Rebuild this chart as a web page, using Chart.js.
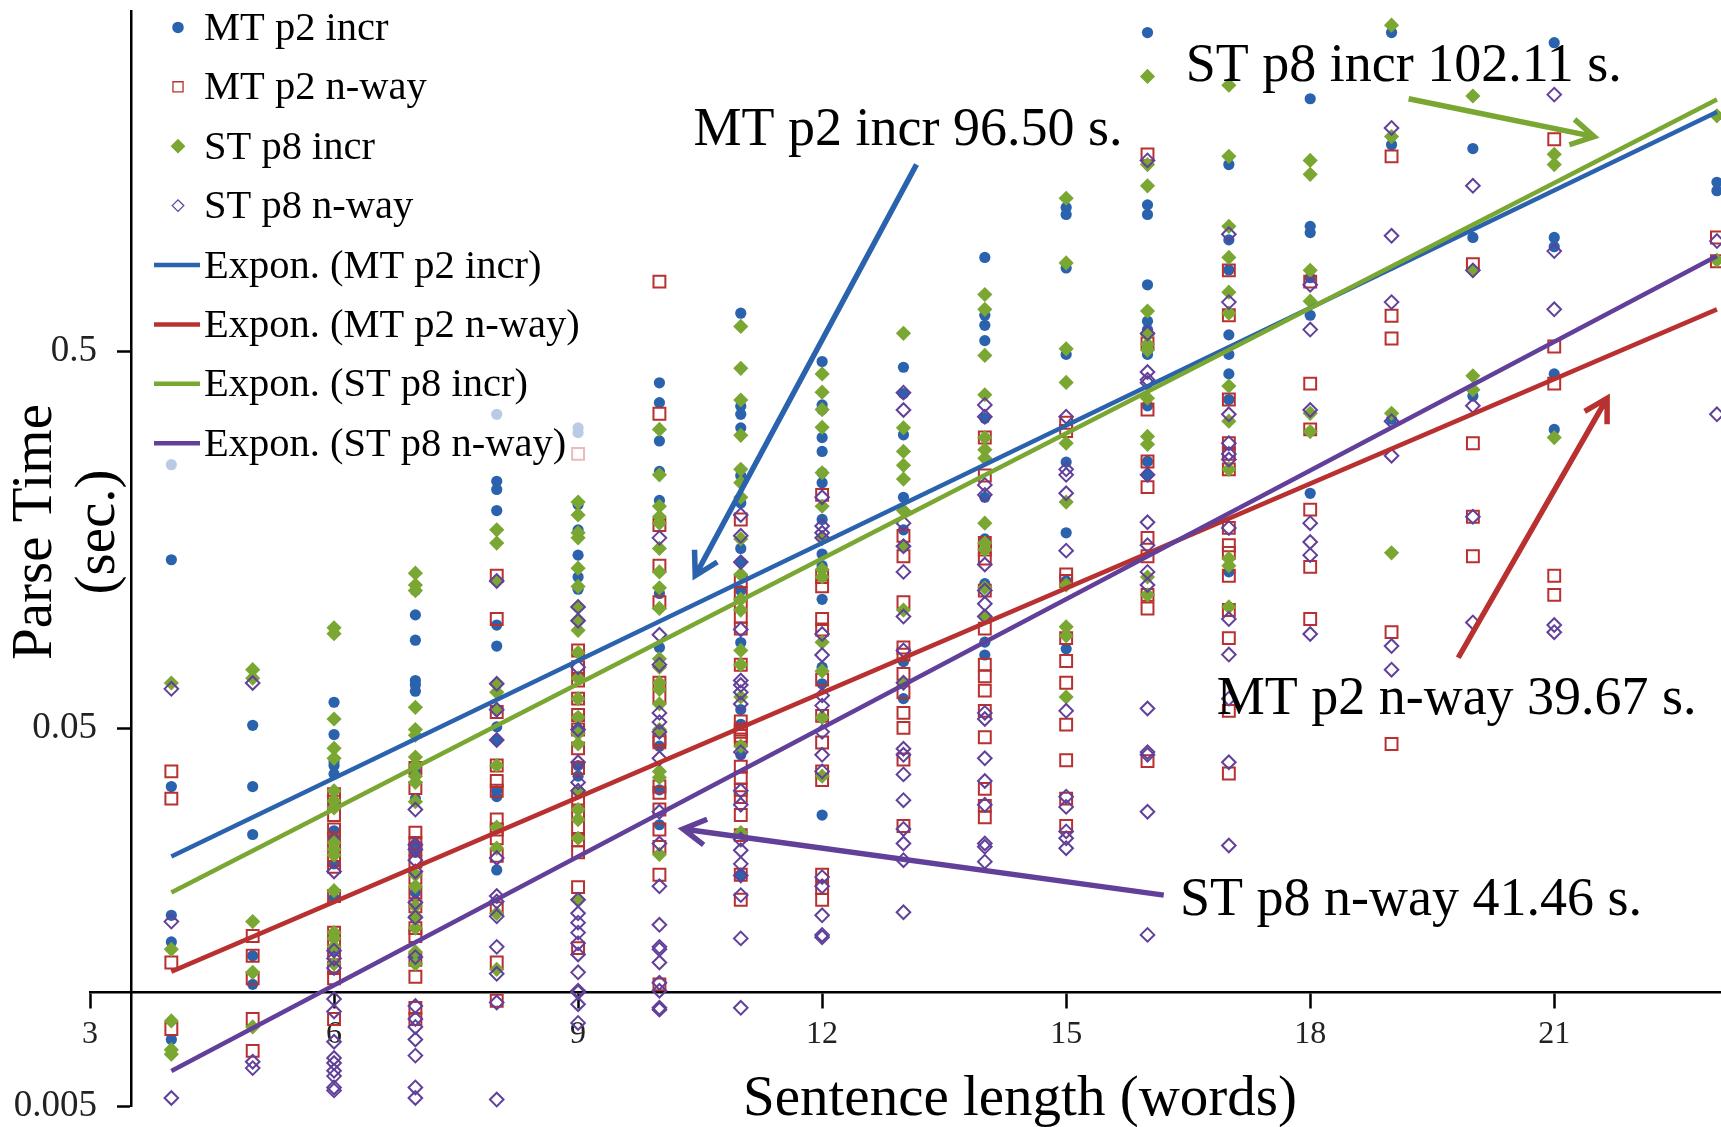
<!DOCTYPE html>
<html>
<head>
<meta charset="utf-8">
<title>Parse time vs sentence length</title>
<script src="https://cdn.jsdelivr.net/npm/chart.js@4/dist/chart.umd.js"></script>
<style>
    html, body { margin: 0; padding: 0; background: #fff; }
    /* the source picture is a soft upscale */
    canvas { display: block; filter: blur(0.5px); }
</style>
</head>
<body>
<canvas id="parseChart" width="1721" height="1127"></canvas>
<script>
// sentence lengths that have points (no 22 in the source)
const lengths = [4, 5, 6, 7, 8, 9, 10, 11, 12, 13, 14, 15, 16, 17, 18, 19, 20, 21, 23];
const xTicks = [3, 6, 9, 12, 15, 18, 21];
const yTicks = [0.005, 0.05, 0.5];

// one inner list per sentence length, parse time in seconds
const mtIncr = [
    [.25, .14, .0351, .016, .0136, .0075],
    [.051, .0351, .0262, .0125, .0105],
    [.0587, .0482, .0408, .0399, .0379, .032, .0268, .0256, .0219, .0178, .0129],
    [.116, .1, .0857, .067, .0653, .0628, .0385, .0326, .0246, .0235, .0184, .0158, .0124],
    [.34, .226, .215, .189, .094, .0827, .0505, .0466, .0342, .033, .0211],
    [.313, .304, .196, .168, .144, .126, .117, .0535, .0497, .0399, .0374, .0342],
    [.412, .365, .289, .24, .201, .114, .082, .0449, .0344, .0278],
    [.63, .357, .34, .313, .234, .198, .15, .138, .116, .0845, .0561, .0513, .0426, .0205],
    [.469, .36, .35, .295, .271, .238, .224, .179, .145, .135, .11, .0727, .0657, .0295],
    [.453, .386, .3, .205, .168, .0752, .06],
    [.885, .622, .585, .533, .332, .205, .159, .121, .0847, .0783],
    [1.2, 1.15, .83, .49, .254, .165, .123, .0813],
    [3.49, 1.22, 1.15, .749, .6, .57, .49, .358, .255, .235],
    [1.56, .985, .82, .552, .49, .435, .372, .13],
    [2.33, 1.07, 1.03, .782, .622, .21],
    [3.49, 1.76, .33],
    [1.72, 1.0, .38],
    [3.28, 1.0, .945, .435, .31],
    [1.4, 1.33]
];
const mtNway = [
    [.0385, .0326, .012, .008],
    [.0141, .0125, .0109, .0085, .007],
    [.0335, .032, .0295, .027, .0256, .0239, .0224, .0215, .018, .0144, .0135, .0127, .0116, .0109, .0085],
    [.0393, .0348, .0265, .0249, .0239, .0222, .0201, .0184, .0169, .0148, .0141, .0122, .011, .0091, .0085],
    [.127, .0975, .0553, .0399, .0363, .0342, .0287, .027, .0256, .023, .0167, .012, .0095],
    [.267, .0805, .0727, .067, .06, .0543, .0497, .0443, .0393, .0326, .03, .0274, .0253, .0235, .019, .0131],
    [.764, .341, .173, .135, .108, .0661, .0606, .0468, .046, .0351, .0338, .0305, .027, .0243, .0205, .0105],
    [.179, .123, .114, .107, .099, .092, .0738, .0522, .0497, .049, .0478, .0468, .0396, .0371, .0344, .0329, .0295, .0261, .0205, .0176],
    [.208, .126, .119, .0975, .0915, .0674, .054, .0459, .0385, .0365, .0205, .0189, .0176],
    [.162, .143, .108, .082, .0785, .0698, .0624, .055, .0502, .0414, .0276],
    [.295, .234, .155, .149, .141, .116, .092, .0738, .0688, .063, .0557, .0474, .0346, .0312, .0291],
    [.323, .307, .128, .123, .0868, .0755, .0661, .0512, .0412, .0326, .0276],
    [1.66, .524, .35, .255, .218, .16, .143, .113, .104, .041],
    [.818, .622, .372, .285, .267, .243, .17, .153, .146, .127, .103, .0868, .0557, .038],
    [.764, .41, .31, .19, .134, .0975],
    [1.64, .62, .54, .09, .0455],
    [.85, .285, .182, .143],
    [1.82, .514, .41, .127, .113],
    [1.0, .865]
];
const stIncr = [
    [.066, .013, .0084, .00705, .00686],
    [.0716, .068, .0154, .0113, .0081],
    [.0924, .0892, .053, .0443, .0417, .0342, .0322, .0308, .0249, .0239, .0231, .0186, .0144, .0139, .0132, .0119],
    [.129, .12, .116, .0569, .0497, .048, .042, .0399, .0374, .036, .032, .0205, .0191, .0169, .0159, .0148, .0128, .0119],
    [.168, .155, .123, .0657, .0624, .0561, .0399, .0274, .0241, .0162, .0115],
    [.199, .184, .165, .16, .133, .119, .105, .097, .091, .0795, .068, .06, .0535, .0485, .0455, .0342, .0305, .0287, .0256, .0176],
    [.31, .235, .194, .182, .175, .15, .13, .118, .104, .0765, .0727, .0661, .0635, .0581, .0497, .0385, .0371, .0232],
    [.581, .45, .371, .299, .243, .224, .205, .159, .128, .11, .103, .0805, .0738, .0606, .0449, .0265],
    [.435, .389, .35, .314, .238, .194, .16, .132, .126, .0847, .071, .0535, .0374],
    [.557, .313, .271, .249, .229, .189, .152, .103, .0661],
    [.706, .645, .487, .383, .295, .274, .26, .175, .155, .149, .118, .099],
    [1.27, .856, .507, .413, .285, .199, .12, .093, .088, .0606],
    [2.67, 1.56, 1.37, .638, .552, .521, .503, .375, .297, .283, .126, .113],
    [2.53, 1.64, 1.07, .885, .716, .63, .404, .326, .243, .141, .135, .105],
    [1.6, 1.47, .818, .678, .342, .306],
    [3.65, 1.85, .342, .146],
    [2.37, .818, .43, .395],
    [1.66, 1.56, .295],
    [2.1, .87]
];
const stNway = [
    [.0637, .0154, .00525],
    [.066, .00655, .0063],
    [.0209, .0129, .0123, .0116, .0096, .0089, .0074, .0067, .0065, .0062, .006, .0056, .0055],
    [.0305, .0246, .0239, .0224, .0209, .0173, .0158, .0124, .0092, .0085, .0081, .0075, .0068, .0056, .00525],
    [.123, .0657, .0561, .0466, .0227, .018, .0174, .0159, .0132, .0112, .0094, .0052],
    [.105, .0965, .0727, .0497, .0407, .036, .0342, .0176, .0162, .0153, .0144, .0135, .0126, .0113, .0101, .01, .0093, .0083],
    [.16, .0886, .0738, .055, .052, .049, .0417, .0301, .0248, .0191, .0151, .0132, .013, .012, .0106, .0101, .0091, .009],
    [.184, .162, .138, .0915, .067, .0652, .0624, .0581, .0433, .0342, .0314, .0254, .0238, .0219, .0204, .0181, .0139, .0091],
    [.205, .172, .165, .16, .089, .0783, .0612, .0575, .049, .0426, .0385, .0202, .0191, .016, .0142, .014],
    [.388, .349, .175, .152, .13, .099, .0805, .0661, .0442, .0426, .0378, .0323, .0271, .0248, .0224, .0163],
    [.36, .335, .221, .208, .136, .116, .107, .099, .055, .053, .0417, .0363, .0314, .0248, .0243, .0222],
    [.335, .243, .235, .21, .148, .0557, .033, .031, .0267, .0256, .0241],
    [1.6, .557, .44, .42, .412, .235, .176, .153, .13, .12, .0565, .0433, .0426, .0301, .0142],
    [1.02, .674, .34, .285, .267, .258, .17, .0975, .0785, .06, .0407, .0245],
    [.749, .57, .349, .175, .156, .144, .089],
    [1.95, 1.01, .674, .326, .264, .0827, .0716],
    [1.37, .818, .358, .182, .0955],
    [2.39, .92, .645, .094, .09],
    [.978, .34]
];

// trend lines: first and last value
const trendX = [4, 23];
const trendMtIncr = [.0229, 2.15];
const trendMtNway = [.01135, .645];
const trendStIncr = [.0184, 2.32];
const trendStNway = [.00619, .893];

const BLUE = '#2a62ad';
const RED = '#b8302f';
const GREEN = '#7aa632';
const PURPLE = '#62409a';
const FONT = '"Liberation Serif", serif';

// flatten the per-length lists into x/y points
function toPoints(cols) {
    const pts = [];
    cols.forEach((col, i) => col.forEach(v => pts.push({ x: lengths[i], y: v })));
    return pts;
}

function trend(ys) {
    return ys.map((v, i) => ({ x: trendX[i], y: v }));
}

function pointSet(label, cols, style, radius, fill, stroke, width, order) {
    return {
        label: label,
        data: toPoints(cols),
        pointStyle: style,
        pointRadius: radius,
        pointHoverRadius: radius,
        backgroundColor: fill,
        borderColor: stroke,
        pointBorderWidth: width,
        showLine: false,
        clip: false,
        order: order
    };
}

function lineSet(label, ys, color, order) {
    return {
        label: label,
        data: trend(ys),
        showLine: true,
        pointRadius: 0,
        borderColor: color,
        backgroundColor: color,
        borderWidth: 4.5,
        clip: false,
        order: order
    };
}

const datasets = [
    pointSet('MT p2 incr', mtIncr, 'circle', 5.6, BLUE, BLUE, 0, 8),
    pointSet('MT p2 n-way', mtNway, 'rect', 8.4, 'rgba(0,0,0,0)', RED, 2, 7),
    pointSet('ST p8 incr', stIncr, 'rectRot', 7.6, GREEN, GREEN, 0, 6),
    pointSet('ST p8 n-way', stNway, 'rectRot', 6.8, 'rgba(0,0,0,0)', PURPLE, 2, 5),
    lineSet('Expon. (MT p2 incr)', trendMtIncr, BLUE, 4),
    lineSet('Expon. (MT p2 n-way)', trendMtNway, RED, 3),
    lineSet('Expon. (ST p8 incr)', trendStIncr, GREEN, 2),
    lineSet('Expon. (ST p8 n-way)', trendStNway, PURPLE, 1)
];

// legend sits on a half see-through white box, points behind it fade out
const legendBox = {
    id: 'legendBox',
    afterDatasetsDraw(chart) {
        const ctx = chart.ctx;
        ctx.save();
        ctx.fillStyle = 'rgba(255,255,255,0.68)';
        ctx.fillRect(140, 0, 446, 474);
        ctx.font = '40.5px ' + FONT;
        ctx.textBaseline = 'middle';
        ctx.textAlign = 'left';
        chart.data.datasets.forEach((ds, i) => {
            const y = 27.4 + i * 59.4;
            if (ds.showLine) {
                ctx.strokeStyle = ds.borderColor;
                ctx.lineWidth = 4.5;
                ctx.beginPath();
                ctx.moveTo(154, y);
                ctx.lineTo(200, y);
                ctx.stroke();
            } else {
                ctx.fillStyle = ds.backgroundColor;
                ctx.strokeStyle = ds.borderColor;
                ctx.lineWidth = ds.pointBorderWidth ? 1.3 : 0;
                Chart.helpers.drawPoint(ctx, {
                    pointStyle: ds.pointStyle,
                    radius: ds.pointRadius * 0.85,
                    borderWidth: ctx.lineWidth
                }, 178, y);
            }
            ctx.fillStyle = '#000';
            ctx.fillText(ds.label, 204, y + 2);
        });
        ctx.restore();
    }
};

// the four labelled arrows, anchored in axis units
const callouts = [
    { text: 'MT p2 incr 96.50 s.', x: 10.42, y: 1.92, from: [13.16, 1.56], to: [10.44, .127], color: BLUE },
    { text: 'ST p8 incr 102.11 s.', x: 16.47, y: 2.83, from: [19.21, 2.33], to: [21.49, 1.85], color: GREEN },
    { text: 'MT p2 n-way 39.67 s.', x: 16.85, y: .0595, from: [19.82, .077], to: [21.65, .375], color: RED },
    { text: 'ST p8 n-way 41.46 s.', x: 16.4, y: .0175, from: [16.2, .0181], to: [10.29, .0271], color: PURPLE }
];

const annotate = {
    id: 'annotate',
    afterDraw(chart) {
        const ctx = chart.ctx;
        const sx = chart.scales.x, sy = chart.scales.y;
        ctx.save();
        ctx.lineCap = 'butt';
        callouts.forEach(c => {
            const x1 = sx.getPixelForValue(c.from[0]), y1 = sy.getPixelForValue(c.from[1]);
            const x2 = sx.getPixelForValue(c.to[0]), y2 = sy.getPixelForValue(c.to[1]);
            const ang = Math.atan2(y2 - y1, x2 - x1);
            ctx.strokeStyle = c.color;
            ctx.lineWidth = 5.5;
            ctx.beginPath();
            ctx.moveTo(x1, y1);
            ctx.lineTo(x2, y2);
            ctx.moveTo(x2 - 26 * Math.cos(ang - 0.52), y2 - 26 * Math.sin(ang - 0.52));
            ctx.lineTo(x2, y2);
            ctx.lineTo(x2 - 26 * Math.cos(ang + 0.52), y2 - 26 * Math.sin(ang + 0.52));
            ctx.stroke();

            ctx.fillStyle = '#000';
            ctx.font = '54px ' + FONT;
            ctx.textAlign = 'left';
            ctx.textBaseline = 'middle';
            ctx.fillText(c.text, sx.getPixelForValue(c.x), sy.getPixelForValue(c.y));
        });

        // y tick labels, the axis sits inside the plot so they are placed by hand
        ctx.font = '37px ' + FONT;
        ctx.fillStyle = '#222';
        ctx.textAlign = 'right';
        yTicks.forEach(v => ctx.fillText(String(v), 97, sy.getPixelForValue(v)));

        // axis titles
        ctx.fillStyle = '#000';
        ctx.font = '57px ' + FONT;
        ctx.textAlign = 'center';
        ctx.fillText('Sentence length (words)', 1020, 1100);
        ctx.save();
        ctx.translate(36, 532);
        ctx.rotate(-Math.PI / 2);
        ctx.fillText('Parse Time', 0, 0);
        ctx.fillText('(sec.)', 0, 63);
        ctx.restore();
        ctx.restore();
    }
};

function noMargins(scale) {
    scale.paddingLeft = scale.paddingRight = scale.paddingTop = scale.paddingBottom = 0;
}

new Chart(document.getElementById('parseChart').getContext('2d'), {
    type: 'scatter',
    data: { datasets: datasets },
    plugins: [legendBox, annotate],
    options: {
        responsive: false,
        animation: false,
        // autoPadding off, otherwise the point radius eats into the right edge
        layout: { autoPadding: false, padding: { left: 90, right: 0, top: 11, bottom: 21 } },
        plugins: {
            legend: { display: false },
            tooltip: { enabled: false }
        },
        scales: {
            x: {
                type: 'linear',
                position: { y: 0.01 },
                min: 3,
                max: 23.05,
                afterFit(scale) { scale.height = 0; noMargins(scale); },
                afterBuildTicks(scale) { scale.ticks = xTicks.map(v => ({ value: v })); },
                grid: { drawOnChartArea: false, tickLength: 15, tickColor: '#000', tickWidth: 2.5 },
                border: { color: '#000', width: 2.5 },
                ticks: { color: '#222', padding: 8, maxRotation: 0, autoSkip: false, font: { size: 32, family: FONT } }
            },
            y: {
                type: 'logarithmic',
                position: { x: 3.51 },
                min: 0.005,
                max: 3.98,
                afterFit(scale) { scale.width = 0; noMargins(scale); },
                afterBuildTicks(scale) { scale.ticks = yTicks.map(v => ({ value: v })); },
                grid: { drawOnChartArea: false, tickLength: 13, tickColor: '#000', tickWidth: 2.5 },
                border: { color: '#000', width: 2.5 },
                ticks: { display: false }
            }
        }
    }
});
</script>
</body>
</html>
